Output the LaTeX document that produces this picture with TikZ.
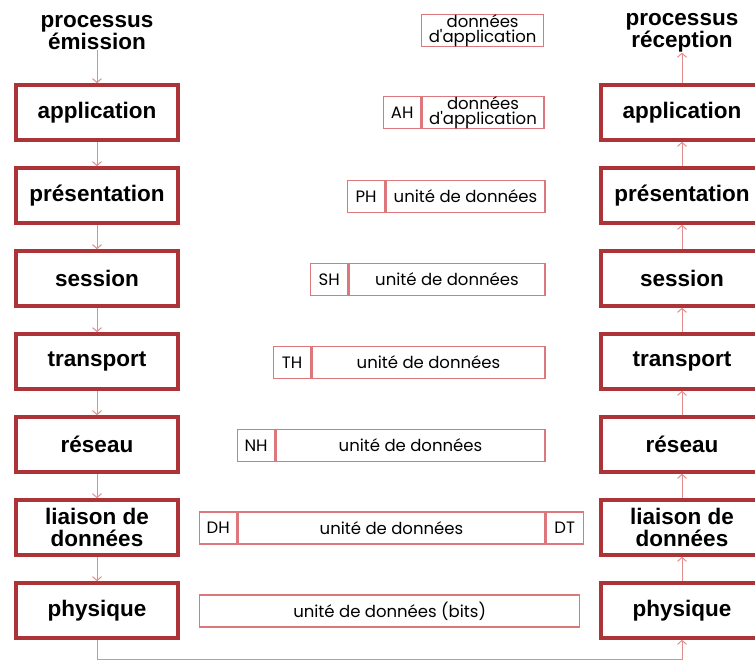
\documentclass[tikz,border=0pt]{standalone}
\usepackage{fontspec}
\setmainfont{Liberation Sans}
\newfontfamily\unitfont{Poppins}
\usepackage{xcolor}
\usetikzlibrary{positioning}
\usetikzlibrary{arrows.meta}

\definecolor{layerred}{RGB}{172,52,56}
\definecolor{unitred}{RGB}{220,120,124}
\definecolor{flowred}{RGB}{226,140,140}

\begin{document}
\begin{tikzpicture}[x=1pt, y=-1pt,
    layer/.style={rectangle, draw=layerred, line width=3.5pt, minimum width=162pt, minimum height=55pt,
        align=center, font=\fontsize{22.5}{22}\selectfont\bfseries, inner sep=0pt},
    title/.style={align=center, font=\fontsize{22.5}{22}\selectfont\bfseries, inner sep=0pt},
    unit/.style={rectangle, draw=unitred, line width=1.3pt, minimum height=32pt, inner sep=0pt,
        align=center, font=\unitfont\fontsize{16.5}{15}\selectfont},
    hdr/.style={unit, minimum width=37pt},
    flow/.style={draw=flowred, line width=1pt, -{Straight Barb[length=4pt, width=9pt]}}
]
    \clip (0,0) rectangle (755,664);

    % Emitting side
    \node[title] (titleE) at (97,33) {processus\\émission};
    \node[layer] (appE)  at (97,112.5) {application};
    \node[layer] (presE) at (97,195.5) {présentation};
    \node[layer] (sessE) at (97,278.5) {session};
    \node[layer] (tranE) at (97,361.5) {transport};
    \node[layer] (resE)  at (97,444.5) {réseau};
    \node[layer] (liaiE) at (97,527.5) {liaison de\\données};
    \node[layer] (physE) at (97,610.5) {physique};

    % Receiving side
    \node[title] (titleR) at (682,33) {processus\\réception};
    \node[layer] (appR)  at (682,112.5) {application};
    \node[layer] (presR) at (682,195.5) {présentation};
    \node[layer] (sessR) at (682,278.5) {session};
    \node[layer] (tranR) at (682,361.5) {transport};
    \node[layer] (resR)  at (682,444.5) {réseau};
    \node[layer] (liaiR) at (682,527.5) {liaison de\\données};
    \node[layer] (physR) at (682,610.5) {physique};

    % Data units
    \node[unit, minimum width=122pt, anchor=west] (dApp) at (421,30.5) {données\\d'application};

    \node[hdr, anchor=west] (hAH) at (383,112.5) {AH};
    \node[unit, minimum width=122pt, right=0pt of hAH] (dAH) {données\\d'application};

    \node[hdr, anchor=west] (hPH) at (347,196.5) {PH};
    \node[unit, minimum width=159pt, right=0pt of hPH] (dPH) {unité de données};

    \node[hdr, anchor=west] (hSH) at (310,279.5) {SH};
    \node[unit, minimum width=196pt, right=0pt of hSH] (dSH) {unité de données};

    \node[hdr, anchor=west] (hTH) at (273,362.5) {TH};
    \node[unit, minimum width=233pt, right=0pt of hTH] (dTH) {unité de données};

    \node[hdr, anchor=west] (hNH) at (237,445.5) {NH};
    \node[unit, minimum width=269pt, right=0pt of hNH] (dNH) {unité de données};

    \node[hdr, anchor=west] (hDH) at (199,528) {DH};
    \node[unit, minimum width=307pt, right=0pt of hDH] (dDH) {unité de données};
    \node[hdr, right=0pt of dDH] (tDT) {DT};

    \node[unit, minimum width=380pt, anchor=west] (dBits) at (199,611) {unité de données (bits)};

    % Flow down the emitting stack
    \draw[flow] (titleE) -- (appE);
    \draw[flow] (appE) -- (presE);
    \draw[flow] (presE) -- (sessE);
    \draw[flow] (sessE) -- (tranE);
    \draw[flow] (tranE) -- (resE);
    \draw[flow] (resE) -- (liaiE);
    \draw[flow] (liaiE) -- (physE);

    % Physical medium
    \draw[flow] (physE.south) -- ++(0,19.5) -| (physR.south);

    % Flow up the receiving stack
    \draw[flow] (physR) -- (liaiR);
    \draw[flow] (liaiR) -- (resR);
    \draw[flow] (resR) -- (tranR);
    \draw[flow] (tranR) -- (sessR);
    \draw[flow] (sessR) -- (presR);
    \draw[flow] (presR) -- (appR);
    \draw[flow] (appR) -- (titleR);
\end{tikzpicture}
\end{document}
